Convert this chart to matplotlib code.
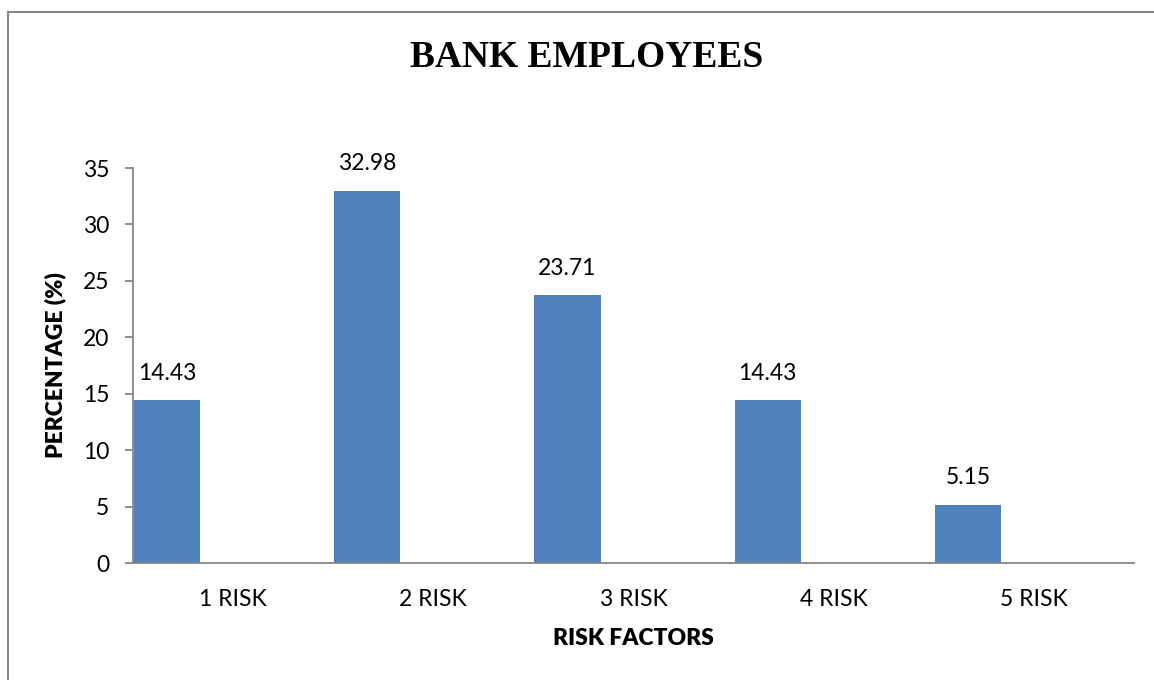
import matplotlib.pyplot as plt
from matplotlib.patches import Rectangle

# Share of bank employees by number of risk factors
categories = ['1 RISK', '2 RISK', '3 RISK', '4 RISK', '5 RISK']
percentages = [14.43, 32.98, 23.71, 14.43, 5.15]
y_ticks = [0, 5, 10, 15, 20, 25, 30, 35]

bar_color = '#4F81BD'
axis_gray = '#868686'
fs = 16.5

fig = plt.figure(figsize=(11.54, 6.8), dpi=100)
ax = fig.add_axes([0.1153, 0.172, 0.8674, 0.5809])

# bars sit at the left edge of each category slot
x = [i - 0.495 for i in range(len(categories))]
bars = ax.bar(x, percentages, width=0.33, align='edge', color=bar_color,
              edgecolor='none')

for rect, val in zip(bars, percentages):
    ax.annotate('{:.2f}'.format(val),
                (rect.get_x() + rect.get_width() / 2, rect.get_height()),
                xytext=(0, 12), textcoords='offset points',
                ha='center', va='bottom', fontsize=fs, family='Lato')

ax.set_xlim(-0.5, len(categories) - 0.5)
ax.set_ylim(0, 35)
ax.set_yticks(y_ticks)
ax.set_xticks(range(len(categories)))
ax.set_xticklabels(categories)

for side in ('top', 'right'):
    ax.spines[side].set_visible(False)
for side in ('left', 'bottom'):
    ax.spines[side].set_color(axis_gray)
    ax.spines[side].set_linewidth(1.3)

ax.tick_params(axis='y', length=6, width=1.3, color=axis_gray, pad=11,
               labelsize=fs)
ax.tick_params(axis='x', length=0, pad=19, labelsize=fs)
for lbl in ax.get_xticklabels() + ax.get_yticklabels():
    lbl.set_family('Lato')

ax.set_xlabel('RISK FACTORS', fontsize=fs, fontweight='heavy', family='Lato',
              labelpad=13)
ax.set_ylabel('PERCENTAGE (%)', fontsize=fs, fontweight='heavy', family='Lato',
              labelpad=12)

fig.text(0.508, 0.915, 'BANK EMPLOYEES', ha='center', va='center',
         fontsize=27, fontweight='bold', family='Liberation Serif')

# outer chart frame, running off the right and bottom edges
fig.patches.append(Rectangle((7.5 / 1154, -0.05), 1.1, 0.05 + 1 - 12.5 / 680,
                             transform=fig.transFigure, fill=False,
                             edgecolor='#888888', linewidth=1.5))

fig.savefig('out.png', dpi=100)
